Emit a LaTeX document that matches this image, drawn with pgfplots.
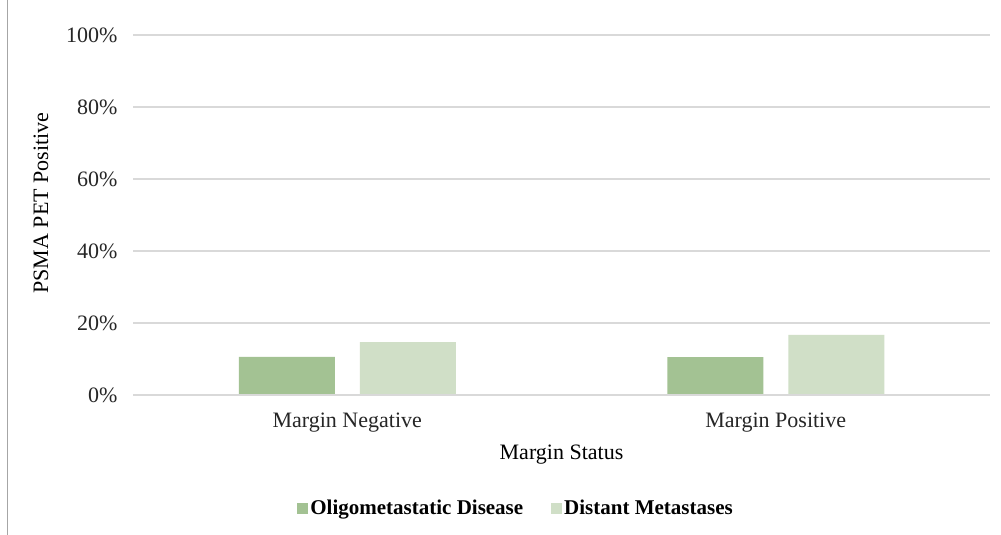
\documentclass[border=0pt]{standalone}
\usepackage{fontspec}
\setmainfont{Liberation Serif}
\usepackage{pgfplots}
\pgfplotsset{compat=1.18}
\definecolor{darkg}{HTML}{A3C293}
\definecolor{lightg}{HTML}{D0DFC7}
\definecolor{gridc}{HTML}{D9D9D9}
\newcommand{\fs}{\fontsize{22bp}{26bp}\selectfont}
\newcommand{\fl}{\fontsize{21bp}{25bp}\selectfont}
\begin{document}
\begin{tikzpicture}
\path[use as bounding box] (0,0) rectangle (1001bp,535bp);
\fill[white] (0,0) rectangle (1001bp,535bp);
\draw[gray!70, line width=1bp] (7bp,0) -- (7bp,535bp);
\begin{axis}[
  at={(133bp,140bp)}, anchor=south west,
  scale only axis, width=857bp, height=360bp,
  ybar=25bp, bar width=96bp,
  xmin=-0.5, xmax=1.5, ymin=0, ymax=100,
  xtick=data, xticklabels={Margin Negative, Margin Positive},
  ytick={0,20,40,60,80,100},
  yticklabel={\pgfmathprintnumber{\tick}\%},
  /pgf/number format/assume math mode=true,
  major tick length=0pt,
  ymajorgrids, grid style={gridc, line width=1.2bp},
  axis line style={draw=none},
  axis x line*=bottom, axis y line*=left,
  ticklabel style={font=\fs, text=black!85},
  yticklabel style={xshift=-12bp},
  xticklabel style={yshift=-14bp},
  xlabel={Margin Status}, xlabel style={font=\fs, yshift=-6bp},
  ylabel={PSMA PET Positive}, ylabel style={font=\fs, at={(ticklabel cs:0.533)}, yshift=11bp},
  legend columns=2,
  legend style={draw=none, at={(0.447,-0.314)}, anchor=center,
    font=\fl\bfseries, /tikz/every even column/.append style={column sep=26bp}},
  legend image code/.code={\fill[#1] (0bp,-5.5bp) rectangle (11bp,5.5bp);},
]
\addplot[fill=darkg, draw=none] coordinates {(0,10.6) (1,10.5)};
\addplot[fill=lightg, draw=none] coordinates {(0,14.7) (1,16.7)};
\draw[gridc, line width=1.2bp] (rel axis cs:0,0) -- (rel axis cs:1,0);
\legend{Oligometastatic Disease, Distant Metastases}
\end{axis}
\end{tikzpicture}
\end{document}
